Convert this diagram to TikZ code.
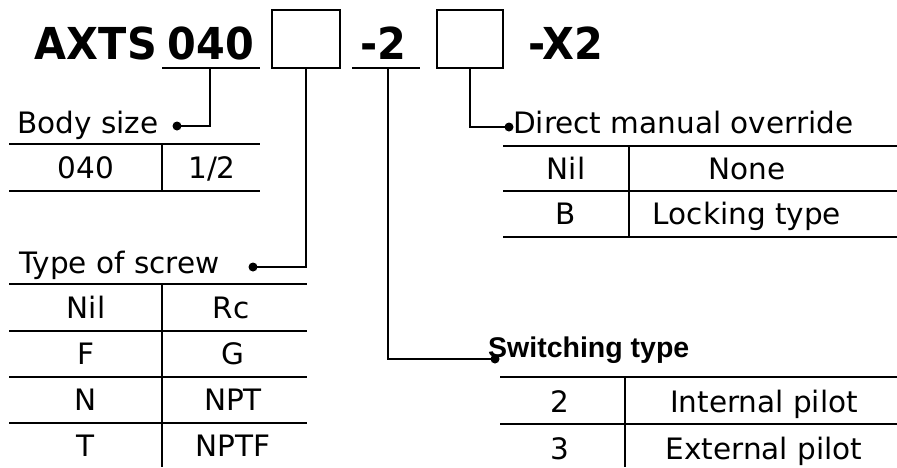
\documentclass[tikz,border=0pt]{standalone}
\usepackage{fontspec}
\setmainfont{DejaVu Sans}
\newfontfamily\titlefont[FakeStretch=0.94]{DejaVu Sans Bold}
\newfontfamily\arialfont{Liberation Sans}
\begin{document}
\begin{tikzpicture}[x=1pt,y=-1pt,
  rule/.style={line width=1.5pt},
  conn/.style={line width=1.6pt},
  dotmark/.style={circle,fill=black,inner sep=0pt,minimum size=9pt},
  title/.style={inner sep=0pt,font=\fontsize{44}{46}\titlefont},
  lbl/.style={inner sep=0pt,anchor=base west,font=\fontsize{29.5}{31}\selectfont},
  cell/.style={inner sep=0pt,anchor=base,font=\fontsize{29.5}{31}\selectfont},
  boldlbl/.style={inner sep=0pt,anchor=base west,font=\fontsize{28.5}{30}\selectfont\arialfont\bfseries}]
\useasboundingbox (0,0) rectangle (897,467);
% title
\node[title,anchor=base east] (axts) at (157,59) {AXTS};
\node[title,anchor=base] (size) at (211,59) {040};
\node[title,anchor=base] (sw) at (383,59) {-2};
\node[title,anchor=base] (x2) at (566,59) {-X2};
\draw[rule] (162,68) coordinate (u1a) -- (260,68) coordinate (u1b);
\draw[rule] (352,68) coordinate (u2a) -- (420,68) coordinate (u2b);
\node[draw,line width=1.5pt,minimum width=68pt,minimum height=58pt,inner sep=0pt] (box1) at (306,39) {};
\node[draw,line width=1.5pt,minimum width=66pt,minimum height=58pt,inner sep=0pt] (box2) at (470,39) {};
% connectors
\coordinate (c1) at (210,68);
\coordinate (c2) at (388,68);
\node[dotmark] (d1) at (177,126) {};
\node[dotmark] (d2) at (253,267) {};
\node[dotmark] (d3) at (495,359) {};
\node[dotmark] (d4) at (509,127) {};
\draw[conn] (c1) |- (d1.center);
\draw[conn] (box1.south) |- (d2.center);
\draw[conn] (c2) |- (d3.center);
\draw[conn] (box2.south) |- (d4.center);
% Body size
\node[lbl] (bs) at (17,133) {Body size};
\draw[rule] (9,144) -- (260,144);
\draw[rule] (9,191) -- (260,191);
\draw[rule] (162,144) -- (162,191);
\node[cell] (bs1) at (86,178) {040};
\node[cell] (bs2) at (212,178) {1/2};
% Type of screw
\node[lbl] (ts) at (19,273) {Type of screw};
\foreach \yy in {284,331,377,423} \draw[rule] (9,\yy) -- (307,\yy);
\draw[rule] (162,284) -- (162,467);
\node[cell] (t1a) at (86,318) {Nil};
\node[cell] (t1b) at (231,318) {Rc};
\node[cell] (t2a) at (86,364) {F};
\node[cell] (t2b) at (233,364) {G};
\node[cell] (t3a) at (86,410) {N};
\node[cell] (t3b) at (233,410) {NPT};
\node[cell] (t4a) at (86,456) {T};
\node[cell] (t4b) at (233,456) {NPTF};
% Direct manual override
\node[lbl] (dm) at (513,133) {Direct manual override};
\foreach \yy in {146,191,237} \draw[rule] (503,\yy) -- (897,\yy);
\draw[rule] (629,146) -- (629,237);
\node[cell] (m1a) at (566,179) {Nil};
\node[cell] (m1b) at (747,179) {None};
\node[cell] (m2a) at (566,224) {B};
\node[cell] (m2b) at (747,224) {Locking type};
% Switching type
\node[boldlbl] (st) at (488,357) {Switching type};
\foreach \yy in {377,424} \draw[rule] (500,\yy) -- (897,\yy);
\draw[rule] (625,377) -- (625,467);
\node[cell] (s1a) at (560,412) {2};
\node[cell] (s1b) at (764,412) {Internal pilot};
\node[cell] (s2a) at (560,459) {3};
\node[cell] (s2b) at (764,459) {External pilot};
\end{tikzpicture}
\end{document}
